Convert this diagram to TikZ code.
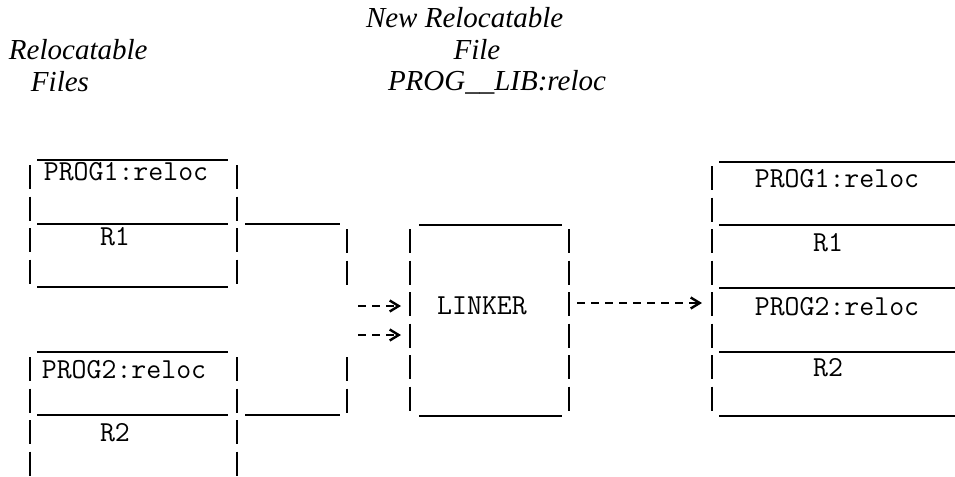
\documentclass[tikz,border=0pt]{standalone}
\usepackage{fontspec}
\setmainfont{Liberation Serif}
\usetikzlibrary{arrows.meta}

\begin{document}
\begin{tikzpicture}[x=0.5pt,y=-0.5pt,line width=1pt]
\tikzstyle{every node}=[inner sep=0pt]
\tikzstyle{head}=[font=\itshape\fontsize{14.5}{16}\selectfont]
\tikzstyle{tt}=[font=\ttfamily\fontsize{14.5}{16}\selectfont]
\tikzstyle{bar}=[line width=1.2pt,dash pattern=on 12pt off 3.75pt]
\tikzstyle{flow}=[line width=1.2pt,dash pattern=on 4pt off 3pt,-{Straight Barb[length=4.5pt,width=5.5pt,line width=1.2pt]}]
\useasboundingbox (0,0) rectangle (955,477);

\node[head,anchor=west](inhead) at (8,50) {Relocatable};
\node[head,anchor=west](infiles) at (30,82) {Files};
\node[head,anchor=west](outhead) at (365,18) {New Relocatable};
\node[head](outfile) at (477,50) {File};
\node[head,anchor=west](outname) at (387,82) {PROG\_\_LIB:reloc};

% input files
\node[tt](progA) at (126,172) {PROG1:reloc};
\node[tt](resA) at (115,237) {R1};
\draw (37,160) -- (228,160) (37,224) -- (228,224) (37,287) -- (228,287);
\draw[bar] (30,165) -- (30,283.5) (237,165) -- (237,283.5);
\node[tt](progB) at (124,370) {PROG2:reloc};
\node[tt](resB) at (115,433) {R2};
\draw (37,352) -- (228,352) (37,415) -- (228,415);
\draw[bar] (30,357) -- (30,490) (237,357) -- (237,490);

% bracket
\draw (245,224) -- (340,224) (245,415) -- (340,415);
\draw[bar] (347,229) -- (347,284.5) (347,357) -- (347,412.5);

% linker
\node[tt](linker) at (482,306) {LINKER};
\draw (419,225) -- (562,225) (419,416) -- (562,416);
\draw[bar] (410,229) -- (410,410.5) (569,229) -- (569,410.5);

% output file
\node[tt](outA) at (837,179) {PROG1:reloc};
\node[tt](outR1) at (828,243) {R1};
\node[tt](outB) at (837,307) {PROG2:reloc};
\node[tt](outR2) at (828,368) {R2};
\draw (719,162) -- (955,162) (719,225) -- (955,225) (719,288) -- (955,288)
      (719,352) -- (955,352) (719,416) -- (955,416);
\draw[bar] (712,166) -- (712,410.5);

\coordinate (grpA) at (358,306);
\coordinate (grpB) at (358,335);
\coordinate (lnkA) at (401,306);
\coordinate (lnkB) at (401,335);
\coordinate (lnkout) at (577,303);
\coordinate (fileout) at (702,303);
\draw[flow] (grpA) -- (lnkA);
\draw[flow] (grpB) -- (lnkB);
\draw[flow] (lnkout) -- (fileout);
\end{tikzpicture}
\end{document}
